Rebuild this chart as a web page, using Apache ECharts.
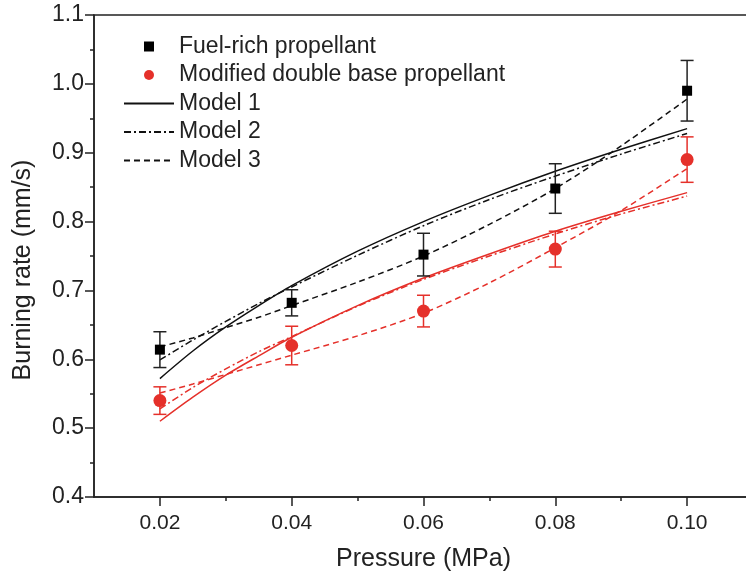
<!DOCTYPE html>
<html>
<head>
<meta charset="utf-8">
<script src="https://cdn.jsdelivr.net/npm/echarts@6/dist/echarts.min.js"></script>
<style>
html,body{margin:0;padding:0;background:#fff;}
#c{width:746px;height:581px;}
</style>
</head>
<body>
<div id="c"></div>
<script>
// Experimental data
const pressure = [0.02, 0.04, 0.06, 0.08, 0.10];
const fuelRich = [0.614, 0.682, 0.752, 0.848, 0.990];
const fuelRichErr = [0.026, 0.019, 0.031, 0.036, 0.044];
const mdb = [0.540, 0.620, 0.670, 0.760, 0.890];
const mdbErr = [0.020, 0.028, 0.023, 0.026, 0.033];

// Model curves
const modelP = [0.02, 0.025, 0.03, 0.035, 0.04, 0.05, 0.06, 0.07, 0.08, 0.09, 0.10];
const frModel1 = [0.572, 0.612, 0.647, 0.678, 0.707, 0.757, 0.800, 0.838, 0.873, 0.905, 0.935];
const frModel2 = [0.599, 0.628, 0.655, 0.681, 0.705, 0.751, 0.794, 0.832, 0.866, 0.898, 0.928];
const frModel3 = [0.618, 0.631, 0.646, 0.661, 0.678, 0.712, 0.750, 0.796, 0.848, 0.910, 0.978];
const mdModel1 = [0.510, 0.545, 0.577, 0.605, 0.632, 0.678, 0.718, 0.753, 0.786, 0.815, 0.842];
const mdModel2 = [0.528, 0.559, 0.586, 0.611, 0.633, 0.677, 0.716, 0.750, 0.782, 0.811, 0.837];
const mdModel3 = [0.551, 0.564, 0.578, 0.592, 0.606, 0.634, 0.667, 0.711, 0.762, 0.816, 0.877];

// Axis ticks
const xMajorTicks = [0.02, 0.04, 0.06, 0.08, 0.10];
const xMinorTicks = [0.03, 0.05, 0.07, 0.09];

const legendNames = ['Fuel-rich propellant', 'Modified double base propellant', 'Model 1', 'Model 2', 'Model 3'];

const BLACK = '#111';
const RED = '#e5302a';
const AXIS = '#222';
const FONT = 'Liberation Sans, Arial, sans-serif';

function pairs(xs, ys) { return xs.map((x, i) => [x, ys[i]]); }
function errData(xs, ys, es) { return xs.map((x, i) => [x, ys[i] - es[i], ys[i] + es[i]]); }

function errRender(color) {
  return function (params, api) {
    const x = api.value(0);
    const lo = api.coord([x, api.value(1)]);
    const hi = api.coord([x, api.value(2)]);
    const hw = 6.5;
    const st = { stroke: color, lineWidth: 1.5 };
    return {
      type: 'group',
      children: [
        { type: 'line', shape: { x1: lo[0], y1: lo[1], x2: hi[0], y2: hi[1] }, style: st },
        { type: 'line', shape: { x1: lo[0] - hw, y1: lo[1], x2: lo[0] + hw, y2: lo[1] }, style: st },
        { type: 'line', shape: { x1: hi[0] - hw, y1: hi[1], x2: hi[0] + hw, y2: hi[1] }, style: st }
      ]
    };
  };
}

function modelLine(name, ys, color, type) {
  return {
    name: name, type: 'line', data: pairs(modelP, ys), smooth: 0.3,
    symbol: 'none', z: 2,
    lineStyle: { color: color, width: 1.5, type: type },
    itemStyle: { color: color }
  };
}

const legendData = legendNames.map(function (n, i) {
  if (i === 0) return { name: n, icon: 'path://M0,0L10,0L10,10L0,10Z' };
  if (i === 1) return { name: n, icon: 'circle' };
  return { name: n, itemStyle: { color: 'rgba(0,0,0,0)', borderColor: 'rgba(0,0,0,0)', borderWidth: 0 } };
});

const chart = echarts.init(document.getElementById('c'), null, { renderer: 'canvas' });
chart.setOption({
  animation: false,
  backgroundColor: '#fff',
  textStyle: { fontFamily: FONT },
  grid: { left: 94, top: 15, right: -7, bottom: 84, outerBoundsMode: 'none', show: true, borderColor: AXIS, borderWidth: 1.5, backgroundColor: 'transparent' },
  legend: {
    data: legendData,
    orient: 'vertical',
    left: 118, top: 30,
    itemWidth: 50, itemHeight: 10, itemGap: 5.5,
    textStyle: { fontSize: 23, color: AXIS, fontFamily: FONT },
    selectedMode: false
  },
  xAxis: [
    {
      type: 'value', min: 0.01, max: 0.11,
      name: 'Pressure (MPa)', nameLocation: 'middle', nameGap: 50,
      nameTextStyle: { fontSize: 25, color: AXIS, fontFamily: FONT },
      axisLine: { lineStyle: { color: AXIS, width: 1.5 } },
      axisTick: { customValues: xMajorTicks, length: 9, lineStyle: { color: AXIS, width: 1.5 } },
      axisLabel: { customValues: xMajorTicks, formatter: v => v.toFixed(2), fontSize: 21, color: AXIS, margin: 16, fontFamily: FONT },
      splitLine: { show: false }
    },
    {
      type: 'value', min: 0.01, max: 0.11, position: 'bottom',
      axisLine: { show: false },
      axisTick: { customValues: xMinorTicks, length: 4, lineStyle: { color: AXIS, width: 1.5 } },
      axisLabel: { show: false },
      splitLine: { show: false }
    }
  ],
  yAxis: {
    type: 'value', min: 0.4, max: 1.1, interval: 0.1,
    name: 'Burning rate (mm/s)', nameLocation: 'middle', nameGap: 58,
    nameTextStyle: { fontSize: 25, color: AXIS, fontFamily: FONT, padding: [0, 28, 0, 0] },
    axisLine: { show: true, lineStyle: { color: AXIS, width: 1.5 } },
    axisTick: { show: true, length: 9, lineStyle: { color: AXIS, width: 1.5 } },
    minorTick: { show: true, splitNumber: 2, length: 4, lineStyle: { color: AXIS, width: 1.5 } },
    axisLabel: { formatter: v => v.toFixed(1), fontSize: 23, color: AXIS, margin: 10, fontFamily: FONT },
    splitLine: { show: false }
  },
  series: [
    modelLine('Model 1', frModel1, BLACK, 'solid'),
    modelLine('Model 2', frModel2, BLACK, [7, 3, 2, 3]),
    modelLine('Model 3', frModel3, BLACK, [6, 4]),
    modelLine('Model 1', mdModel1, RED, 'solid'),
    modelLine('Model 2', mdModel2, RED, [7, 3, 2, 3]),
    modelLine('Model 3', mdModel3, RED, [6, 4]),
    { type: 'custom', name: 'frErr', data: errData(pressure, fuelRich, fuelRichErr), renderItem: errRender(AXIS), z: 3, encode: { x: 0, y: [1, 2] } },
    { type: 'custom', name: 'mdErr', data: errData(pressure, mdb, mdbErr), renderItem: errRender(RED), z: 3, encode: { x: 0, y: [1, 2] } },
    { name: 'Fuel-rich propellant', type: 'scatter', data: pairs(pressure, fuelRich), symbol: 'rect', symbolSize: 10, itemStyle: { color: '#000', opacity: 1 }, z: 4 },
    { name: 'Modified double base propellant', type: 'scatter', data: pairs(pressure, mdb), symbol: 'circle', symbolSize: 13, itemStyle: { color: RED, opacity: 1 }, z: 4 }
  ]
});
</script>
</body>
</html>
